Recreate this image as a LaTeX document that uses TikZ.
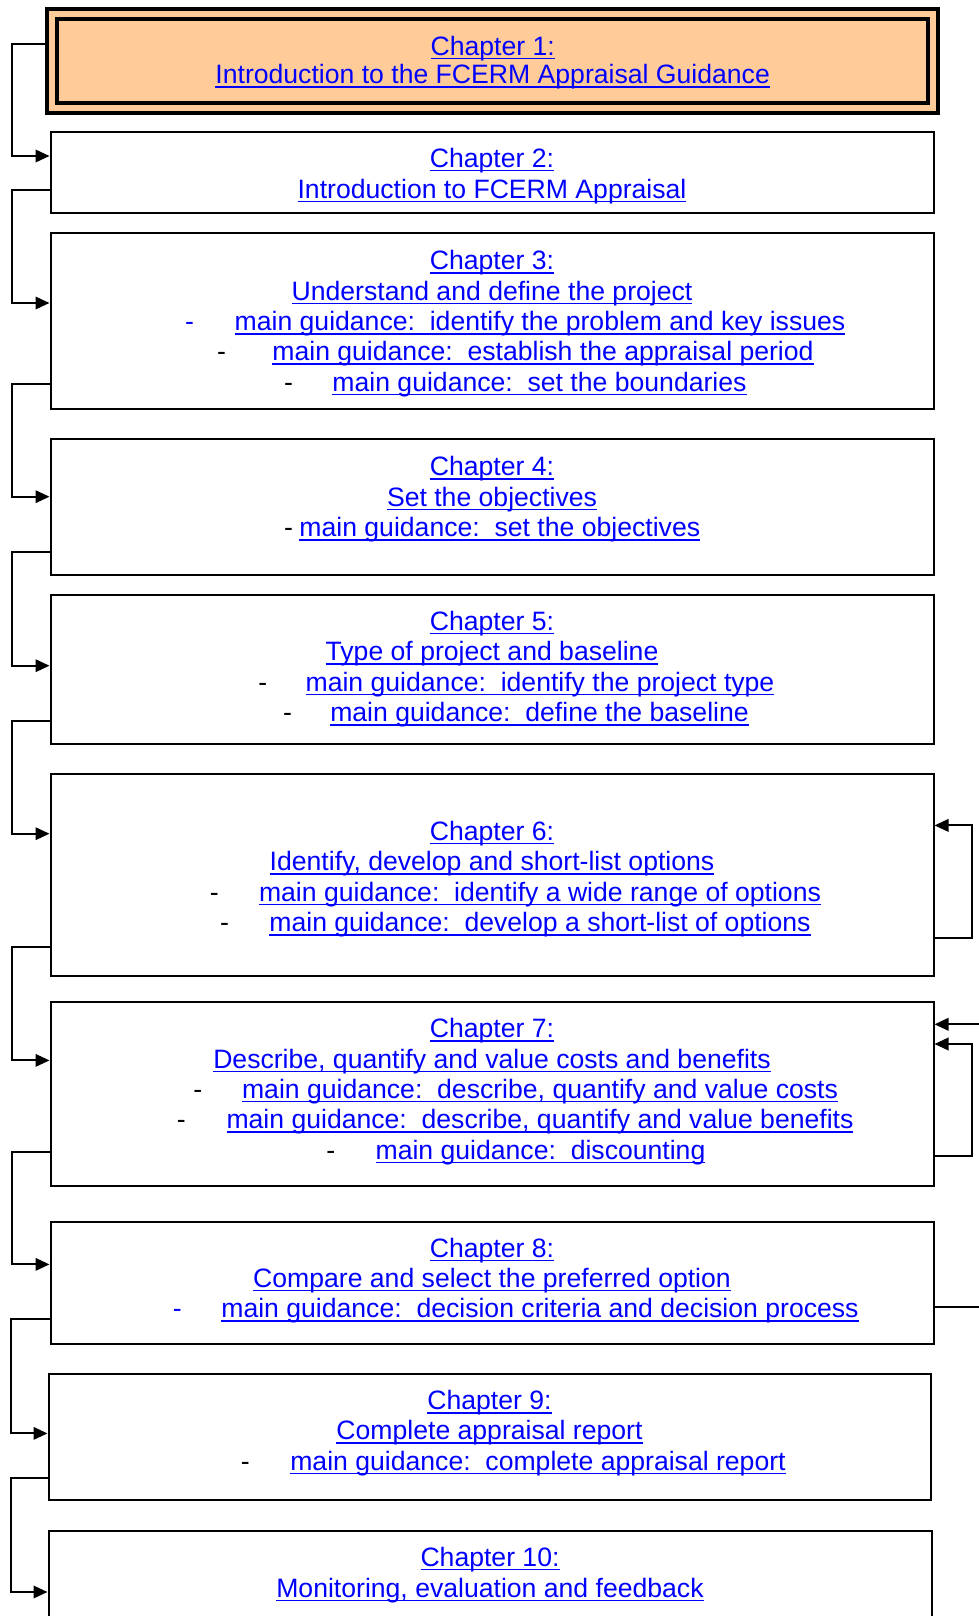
\documentclass[tikz,border=0pt]{standalone}
\usepackage{fontspec}
\setmainfont{Liberation Sans}
\usetikzlibrary{arrows.meta,calc}
\definecolor{linkblue}{RGB}{0,0,255}
\definecolor{boxorange}{RGB}{255,204,153}
% underlined hyperlink-style text
\newsavebox\lnkbox
\newcommand\linktext[1]{\sbox\lnkbox{#1}\rlap{\rule[-4pt]{\wd\lnkbox}{1.5pt}}\usebox\lnkbox}
\begin{document}
\begin{tikzpicture}[x=1pt,y=-1pt,
  every node/.style={font=\fontsize{26.6}{30.4}\selectfont},
  chapbox/.style={rectangle, draw=black, line width=2pt, fill=white, inner sep=0pt, outer sep=1pt},
  title/.style={text=linkblue, anchor=base, inner sep=0pt},
  item/.style={text=linkblue, anchor=base, inner sep=0pt},
  bullet/.style={text=black, anchor=base, inner sep=0pt},
  flow/.style={draw=black, line width=2pt, -{Triangle[length=14pt,width=12.5pt]}}
]
\useasboundingbox (0,0) rectangle (979,1616);

% chapter boxes
\node[rectangle, draw=black, double=boxorange, double distance=6pt, line width=4pt,
      fill=boxorange, inner sep=0pt, outer sep=7pt,
      minimum width=881.3pt, minimum height=94.6pt] (b1) at (492.65,61) {};
\node[chapbox, minimum width=883pt, minimum height=81.3pt]  (b2)  at (492,172.65) {};
\node[chapbox, minimum width=883pt, minimum height=176.2pt] (b3)  at (492,321) {};
\node[chapbox, minimum width=883pt, minimum height=136pt]   (b4)  at (492,507) {};
\node[chapbox, minimum width=883pt, minimum height=149.4pt] (b5)  at (492,669.3) {};
\node[chapbox, minimum width=883pt, minimum height=202pt]   (b6)  at (492,875) {};
\node[chapbox, minimum width=883pt, minimum height=184.4pt] (b7)  at (492,1093.8) {};
\node[chapbox, minimum width=883pt, minimum height=121.8pt] (b8)  at (492,1282.9) {};
\node[chapbox, minimum width=882pt, minimum height=126.7pt] (b9)  at (489.5,1437) {};
\node[chapbox, minimum width=883pt, minimum height=119pt]   (b10) at (490,1590.5) {};

% chapter 1
\node[title] (t1a) at (492.65,55.5) {\linktext{Chapter 1:}};
\node[title] (t1b) at (492.65,84) {\linktext{Introduction to the FCERM Appraisal Guidance}};
% chapter 2
\node[title] (t2a) at (492,167.5) {\linktext{Chapter 2:}};
\node[title] (t2b) at (492,198) {\linktext{Introduction to FCERM Appraisal}};
% chapter 3
\node[title] (t3a) at (492,269.7) {\linktext{Chapter 3:}};
\node[title] (t3b) at (492,300.1) {\linktext{Understand and define the project}};
\node[bullet, text=linkblue] (d3c) at (189.6,330.5) {-};
\node[item] (t3c) at (540,330.5) {\linktext{main guidance:\ \ identify the problem and key issues}};
\node[bullet] (d3d) at (221.6,360.9) {-};
\node[item] (t3d) at (543,360.9) {\linktext{main guidance:\ \ establish the appraisal period}};
\node[bullet] (d3e) at (288.5,391.3) {-};
\node[item] (t3e) at (539.5,391.3) {\linktext{main guidance:\ \ set the boundaries}};
% chapter 4
\node[title] (t4a) at (492,475.7) {\linktext{Chapter 4:}};
\node[title] (t4b) at (492,506.1) {\linktext{Set the objectives}};
\node[bullet] (d4c) at (288.5,536.5) {-};
\node[item] (t4c) at (499.8,536.5) {\linktext{main guidance:\ \ set the objectives}};
% chapter 5
\node[title] (t5a) at (492,630.4) {\linktext{Chapter 5:}};
\node[title] (t5b) at (492,660.8) {\linktext{Type of project and baseline}};
\node[bullet] (d5c) at (262.8,691.2) {-};
\node[item] (t5c) at (540,691.2) {\linktext{main guidance:\ \ identify the project type}};
\node[bullet] (d5d) at (287.5,721.6) {-};
\node[item] (t5d) at (539.5,721.6) {\linktext{main guidance:\ \ define the baseline}};
% chapter 6
\node[title] (t6a) at (492,840.4) {\linktext{Chapter 6:}};
\node[title] (t6b) at (492,870.8) {\linktext{Identify, develop and short-list options}};
\node[bullet] (d6c) at (214.3,901.2) {-};
\node[item] (t6c) at (540,901.2) {\linktext{main guidance:\ \ identify a wide range of options}};
\node[bullet] (d6d) at (224.6,931.6) {-};
\node[item] (t6d) at (540,931.6) {\linktext{main guidance:\ \ develop a short-list of options}};
% chapter 7
\node[title] (t7a) at (492,1037.6) {\linktext{Chapter 7:}};
\node[title] (t7b) at (492,1068) {\linktext{Describe, quantify and value costs and benefits}};
\node[bullet] (d7c) at (197.9,1098.4) {-};
\node[item] (t7c) at (540,1098.4) {\linktext{main guidance:\ \ describe, quantify and value costs}};
\node[bullet] (d7d) at (181.4,1128.8) {-};
\node[item] (t7d) at (540,1128.8) {\linktext{main guidance:\ \ describe, quantify and value benefits}};
\node[bullet] (d7e) at (330.8,1159.2) {-};
\node[item] (t7e) at (540.5,1159.2) {\linktext{main guidance:\ \ discounting}};
% chapter 8
\node[title] (t8a) at (492,1257) {\linktext{Chapter 8:}};
\node[title] (t8b) at (492,1287.4) {\linktext{Compare and select the preferred option}};
\node[bullet, text=linkblue] (d8c) at (177.2,1317.8) {-};
\node[item] (t8c) at (540,1317.8) {\linktext{main guidance:\ \ decision criteria and decision process}};
% chapter 9
\node[title] (t9a) at (489.5,1409.5) {\linktext{Chapter 9:}};
\node[title] (t9b) at (489.5,1439.9) {\linktext{Complete appraisal report}};
\node[bullet] (d9c) at (245.3,1470.3) {-};
\node[item] (t9c) at (538,1470.3) {\linktext{main guidance:\ \ complete appraisal report}};
% chapter 10
\node[title] (t10a) at (490,1566) {\linktext{Chapter 10:}};
\node[title] (t10b) at (490,1597) {\linktext{Monitoring, evaluation and feedback}};

% sequence connectors on the left
\draw[flow] (b1.west |- 0,44)     -- (12,44)     |- (b2.west |- 0,156);
\draw[flow] (b2.west |- 0,190)    -- (12,190)    |- (b3.west |- 0,303);
\draw[flow] (b3.west |- 0,384.4)  -- (12,384.4)  |- (b4.west |- 0,496.7);
\draw[flow] (b4.west |- 0,552.4)  -- (12,552.4)  |- (b5.west |- 0,665.7);
\draw[flow] (b5.west |- 0,721.4)  -- (12,721.4)  |- (b6.west |- 0,833.7);
\draw[flow] (b6.west |- 0,947)    -- (12,947)    |- (b7.west |- 0,1060.4);
\draw[flow] (b7.west |- 0,1152)   -- (12,1152)   |- (b8.west |- 0,1264.4);
\draw[flow] (b8.west |- 0,1319)   -- (10.5,1319) |- (b9.west |- 0,1433.4);
\draw[flow] (b9.west |- 0,1478)   -- (10.5,1478) |- (b10.west |- 0,1592);

% feedback loops on the right
\draw[flow] (b6.east |- 0,937.8)  -- (972,937.8)  |- (b6.east |- 0,825.4);
\draw[flow] (b7.east |- 0,1156.2) -- (972,1156.2) |- (b7.east |- 0,1044);
\draw[flow] (b8.east |- 0,1306.7) -- (995,1306.7) |- (b7.east |- 0,1024.3);
\end{tikzpicture}
\end{document}
